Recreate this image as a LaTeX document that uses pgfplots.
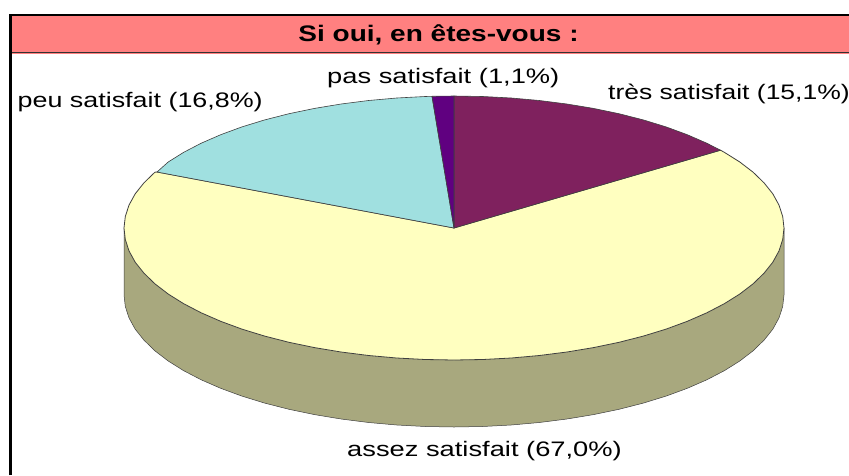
\documentclass[border=0pt]{standalone}
\usepackage{fontspec}
\setmainfont{Liberation Sans}
\usepackage{graphicx}
\usepackage{pgfplots}
\pgfplotsset{compat=1.18}
\definecolor{tres}{HTML}{7F215E}
\definecolor{assez}{HTML}{FFFFC0}
\definecolor{peu}{HTML}{A0E0E0}
\definecolor{pas}{HTML}{600080}
\definecolor{side}{HTML}{A8A87E}
\definecolor{band}{HTML}{FF8080}
\definecolor{edge}{HTML}{404040}
\newcommand{\lab}[2]{\fontsize{21}{25}\selectfont\scalebox{#1}[1]{#2}}
\begin{document}
\begin{tikzpicture}
\clip (0,0) rectangle (849pt,475pt);
\begin{axis}[scale only axis, width=849pt, height=475pt,
  xmin=0, xmax=849, ymin=0, ymax=475, y dir=reverse,
  axis lines=none, clip=false]

% title band and frame
\addplot[fill=band, draw=none] coordinates {(10,15)(849,15)(849,54)(10,54)} -- cycle;
\addplot[black, line width=1.5pt] coordinates {(10,475)(10,15)(849,15)};
\addplot[black!80, line width=1pt] coordinates {(11,52.5)(849,52.5)};
\addplot[black, line width=3pt] coordinates {(10.5,475)(10.5,15)};

% side of the pie
\addplot[fill=side, draw=edge, line width=0.5pt] table {
784 228
784 295
782.7 306.5
779 317.9
772.8 329.2
764.1 340.1
753.1 350.8
739.8 361
724.3 370.7
706.8 379.8
687.3 388.3
666.1 396.1
643.3 403.1
619 409.3
593.5 414.6
566.9 419
539.4 422.5
511.3 425
482.8 426.5
454 427
425.2 426.5
396.7 425
368.6 422.5
341.1 419
314.5 414.6
289 409.3
264.7 403.1
241.9 396.1
220.7 388.3
201.2 379.8
183.7 370.7
168.2 361
154.9 350.8
143.9 340.1
135.2 329.2
129 317.9
125.3 306.5
124 295
124 228
} -- cycle;

% assez satisfait 67,0
\addplot[fill=assez, draw=edge, line width=0.8pt] table {
454 228
720.5 150.2
724.3 152.3
739.8 162
753.1 172.2
764.1 182.9
772.8 193.8
779 205.1
782.7 216.5
784 228
782.7 239.5
779 250.9
772.8 262.2
764.1 273.1
753.1 283.8
739.8 294
724.3 303.7
706.8 312.8
687.3 321.3
666.1 329.1
643.3 336.1
619 342.3
593.5 347.6
566.9 352
539.4 355.5
511.3 358
482.8 359.5
454 360
425.2 359.5
396.7 358
368.6 355.5
341.1 352
314.5 347.6
289 342.3
264.7 336.1
241.9 329.1
220.7 321.3
201.2 312.8
183.7 303.7
168.2 294
154.9 283.8
143.9 273.1
135.2 262.2
129 250.9
125.3 239.5
124 228
125.3 216.5
129 205.1
135.2 193.8
143.9 182.9
154.9 172.2
157 172
} -- cycle;

% tres satisfait 15,1
\addplot[fill=tres, draw=edge, line width=0.6pt] table {
454 228
454 96
482.8 96.5
511.3 98
539.4 100.5
566.9 104
593.5 108.4
619 113.7
643.3 119.9
666.1 126.9
687.3 134.7
706.8 143.2
720.5 150.2
} -- cycle;

% peu satisfait 16,8
\addplot[fill=peu, draw=edge, line width=0.6pt] table {
454 228
157 172
168.2 162
183.7 152.3
201.2 143.2
220.7 134.7
241.9 126.9
264.7 119.9
289 113.7
314.5 108.4
341.1 104
368.6 100.5
396.7 98
425.2 96.5
432 96.3
} -- cycle;

% pas satisfait 1,1
\addplot[fill=pas, draw=edge, line width=0.6pt] coordinates {(454,228)(432,96.3)(454,96)} -- cycle;

\node[inner sep=0pt] at (axis cs:438.5,35) {\fontsize{22.5}{26}\selectfont\scalebox{1.245}[1]{\bfseries Si oui, en êtes-vous :}};
\node[inner sep=0pt, anchor=west] at (axis cs:17.5,102.5) {\lab{1.28}{peu satisfait (16,8\%)}};
\node[inner sep=0pt, anchor=west] at (axis cs:327,77.7) {\lab{1.3}{pas satisfait (1,1\%)}};
\node[inner sep=0pt, anchor=west] at (axis cs:608,94) {\lab{1.262}{très satisfait (15,1\%)}};
\node[inner sep=0pt, anchor=west] at (axis cs:347,451.4) {\lab{1.30}{assez satisfait (67,0\%)}};
\end{axis}
\end{tikzpicture}
\end{document}
